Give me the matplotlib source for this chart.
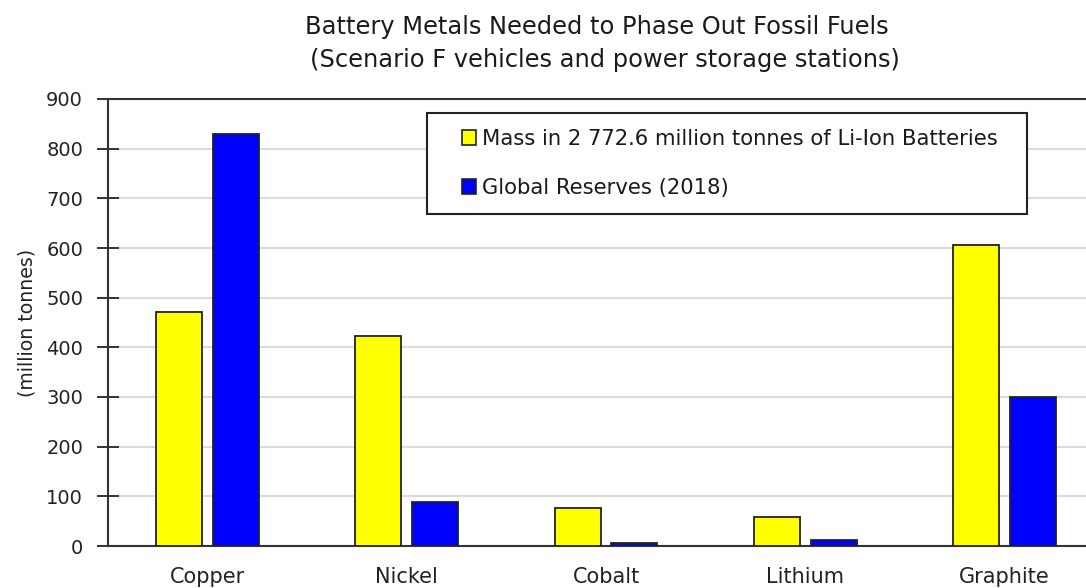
import matplotlib
matplotlib.use("Agg")
import matplotlib.pyplot as plt
from matplotlib.patches import Rectangle, Patch
import numpy as np

plt.rcParams['font.family'] = ['DejaVu Sans']

categories = ["Copper", "Nickel", "Cobalt", "Lithium", "Graphite"]
battery_mass = [471, 422, 76, 58, 607]
global_reserves = [830, 89, 6, 12, 300]
series_labels = ["Mass in 2 772.6 million tonnes of Li-Ion Batteries",
                 "Global Reserves (2018)"]
yticks = [0, 100, 200, 300, 400, 500, 600, 700, 800, 900]

W, H = 1086, 588
fig = plt.figure(figsize=(W / 100, H / 100), dpi=100)
ax_left, ax_right = 108, 1104
ax_top, ax_bottom = 99, 546
ax = fig.add_axes([ax_left / W, 1 - ax_bottom / H,
                   (ax_right - ax_left) / W, (ax_bottom - ax_top) / H])

x = np.arange(len(categories))
bw = 0.231
off = 0.1425
edge = '#222222'
ax.bar(x - off, battery_mass, bw, color='#ffff00', edgecolor=edge,
       linewidth=1.3, zorder=3)
ax.bar(x + off, global_reserves, bw, color='#0000ff', edgecolor=edge,
       linewidth=1.3, zorder=3)

ax.set_xlim(-0.5, len(categories) - 0.5)
ax.set_ylim(0, 900)
ax.set_yticks(yticks)
ax.set_xticks(x)
ax.set_xticklabels(categories, fontsize=15)
ax.tick_params(axis='x', length=0, pad=15, colors='#222222')
ax.tick_params(axis='y', direction='inout', length=16, width=1.4,
               colors='#333333', labelsize=14, pad=10, labelcolor='#222222')

ax.yaxis.grid(True, color='#dcdcdc', linewidth=1.5, zorder=0)
ax.set_axisbelow(True)
for s in ['left', 'top', 'bottom']:
    ax.spines[s].set_color('#333333')
    ax.spines[s].set_linewidth(1.5)
ax.spines['right'].set_visible(False)

ax.set_ylabel("(million tonnes)", fontsize=13.6, color='#222222', labelpad=7)

fig.text(597 / W, 1 - 27 / H, "Battery Metals Needed to Phase Out Fossil Fuels",
         ha='center', va='center', fontsize=17.4, color='#1a1a1a')
fig.text(605 / W, 1 - 60 / H, "(Scenario F vehicles and power storage stations)",
         ha='center', va='center', fontsize=17.4, color='#1a1a1a')

# legend box
fig.add_artist(Rectangle((427 / W, 1 - 213.5 / H), (1027 - 427) / W, (213.5 - 113) / H,
                         transform=fig.transFigure, facecolor='white',
                         edgecolor='#222222', linewidth=1.5, zorder=5))
handles = [Patch(facecolor='#ffff00', edgecolor=edge, linewidth=1.2),
           Patch(facecolor='#0000ff', edgecolor=edge, linewidth=1.2)]
leg = fig.legend(handles, series_labels, loc='upper left',
                 bbox_to_anchor=(462 / W, 1 - 129 / H), frameon=False,
                 fontsize=15.2, handlelength=0.68, handleheight=0.68,
                 handletextpad=0.28, labelspacing=1.38, borderpad=0,
                 borderaxespad=0)
leg.set_zorder(6)
for t in leg.get_texts():
    t.set_color('#1a1a1a')

fig.savefig("out.png", dpi=100)
